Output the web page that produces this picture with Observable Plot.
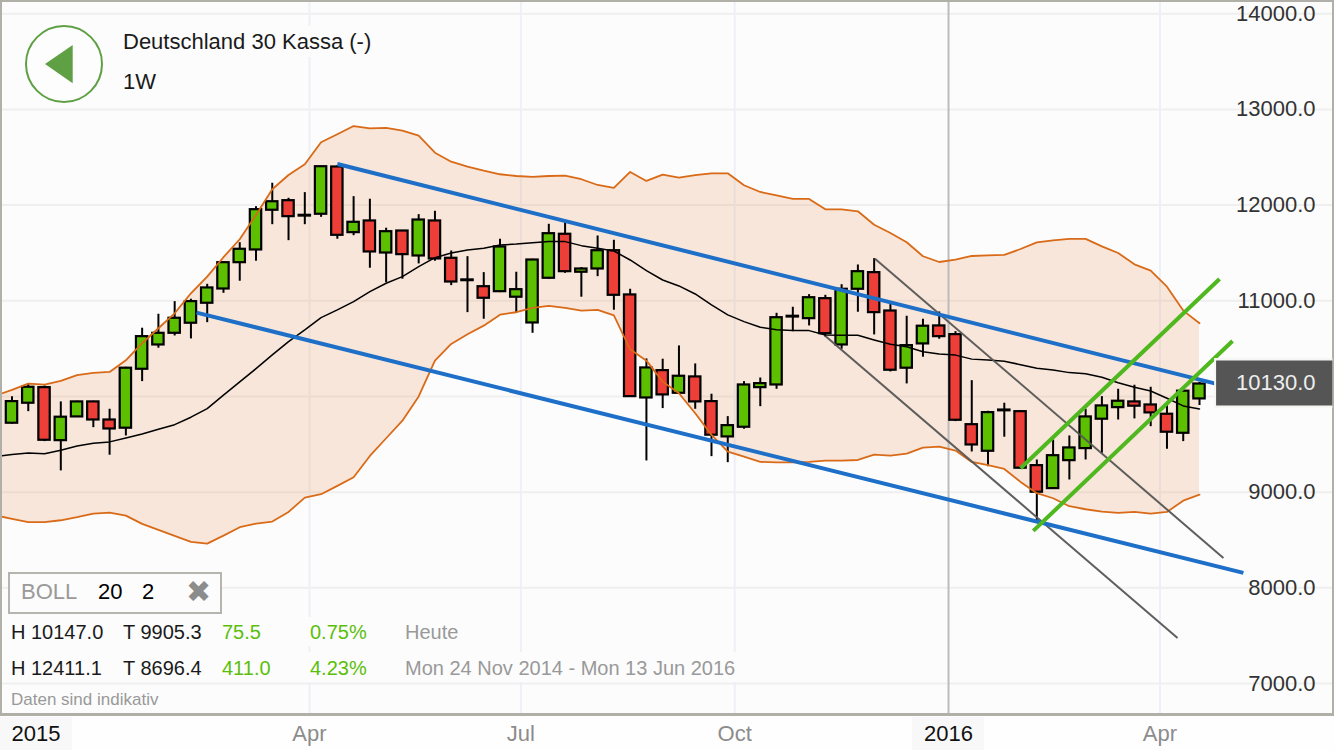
<!DOCTYPE html>
<html lang="de">
<head>
<meta charset="utf-8">
<title>Deutschland 30 Kassa</title>
<script src="https://cdn.jsdelivr.net/npm/d3@7"></script>
<script src="https://cdn.jsdelivr.net/npm/@observablehq/plot@0.6"></script>
<style>
  html, body { margin: 0; padding: 0; background: #fefefe; overflow: hidden; }
  body { width: 1334px; height: 750px; position: relative; font-family: "Liberation Sans", Arial, sans-serif; }
  #back, #front { position: absolute; left: 0; top: 0; width: 1334px; height: 750px; }
  #back { z-index: 0; } #front { z-index: 2; pointer-events: none; }
  #chart { position: absolute; left: 0; top: 0; z-index: 1; }
  #chart svg { display: block; background: transparent; }
  .frame { position: absolute; left: 0; top: 0; width: 1330px; height: 711px; background: #fcfcfc; border: 2px solid #b0b0a8; border-bottom-width: 3px; }
  .yr { position: absolute; top: 717px; height: 33px; background: #f8f8f8; }
  .t { position: absolute; white-space: nowrap; line-height: 1; }
  .row { position: absolute; left: 3px; background: #fcfcfc; }
</style>
</head>
<body>
<div id="back">
  <div class="frame"></div>
  <div class="yr" style="left:0;width:72px"></div>
  <div class="yr" style="left:912px;width:72px"></div>
</div>
<div id="chart"></div>
<div id="front">
  <svg style="position:absolute;left:0;top:0" width="130" height="130">
    <circle cx="64" cy="64" r="38" fill="#fdfdfd" stroke="#5fa045" stroke-width="2"></circle>
    <polygon points="45,64 72.7,45 72.7,83.3" fill="#5fa045"></polygon>
  </svg>
  <div class="row" style="left:118px;top:26px;width:258px;height:31px"></div>
  <div class="t" style="left:123px;top:31px;font-size:22px;color:#1a1a1a">Deutschland 30 Kassa (-)</div>
  <div class="t" style="left:123px;top:71px;font-size:22px;color:#1a1a1a">1W</div>

  <div style="position:absolute;left:8px;top:572px;width:210px;height:38px;border:2.5px solid #b5b5b0;background:#fcfcfc"></div>
  <div class="t" style="left:21px;top:581px;font-size:22px;color:#999">BOLL</div>
  <div class="t" style="left:98px;top:581px;font-size:22px;color:#000">20</div>
  <div class="t" style="left:142px;top:581px;font-size:22px;color:#000">2</div>
  <div class="t" style="left:186px;top:577px;font-size:30px;color:#8c8c8c;font-family:'DejaVu Sans'">&#10006;</div>

  <div class="row" style="top:617px;width:458px;height:29px"></div>
  <div class="row" style="top:652px;width:737px;height:30px"></div>
  <div class="t" style="left:11px;top:622px;font-size:20px;color:#1a1a1a">H 10147.0</div>
  <div class="t" style="left:123px;top:622px;font-size:20px;color:#1a1a1a">T 9905.3</div>
  <div class="t" style="left:222px;top:622px;font-size:20px;color:#5bbf0a">75.5</div>
  <div class="t" style="left:310px;top:622px;font-size:20px;color:#5bbf0a">0.75%</div>
  <div class="t" style="left:405px;top:622px;font-size:20px;color:#999">Heute</div>
  <div class="t" style="left:11px;top:658px;font-size:20px;color:#1a1a1a">H 12411.1</div>
  <div class="t" style="left:123px;top:658px;font-size:20px;color:#1a1a1a">T 8696.4</div>
  <div class="t" style="left:222px;top:658px;font-size:20px;color:#5bbf0a">411.0</div>
  <div class="t" style="left:310px;top:658px;font-size:20px;color:#5bbf0a">4.23%</div>
  <div class="t" style="left:405px;top:658px;font-size:20px;color:#999">Mon 24 Nov 2014 - Mon 13 Jun 2016</div>
  <div class="t" style="left:11px;top:691px;font-size:17px;color:#999">Daten sind indikativ</div>
</div>
<script>
const firstWeek = new Date(Date.UTC(2014, 10, 24));
const weekDate = w => new Date(firstWeek.getTime() + w * 7 * 864e5);

const opens = [9720,9929,10092,9538,9786,9943,9754,9668,10284,10538,10660,10765,10974,11123,11398,11531,11946,12046,11885,11904,12398,11712,11834,11499,11729,11468,11834,11444,11210,11147,11095,11037,10768,11235,11695,11298,11332,11523,11061,9984,10270,10033,10204,9946,9577,9678,10092,10120,10830,10813,11022,10538,11120,11294,10893,10295,10549,10737,10646,9705,9427,9850,9841,9277,9037,9329,9455,9762,9883,9943,9911,9814,9615,9974];
const closes = [9946,10096,9542,9783,9943,9754,9660,10295,10625,10660,10817,10991,11134,11398,11538,11952,12035,11879,11893,12401,11684,11820,11510,11722,11482,11844,11437,11196,11218,11026,11562,11116,11426,11701,11304,11332,11523,11057,9998,10298,10016,10211,9943,9595,9695,10120,10134,10823,10838,11032,10656,11120,11304,10876,10274,10531,10734,10625,9751,9493,9831,9858,9250,8999,9381,9462,9786,9901,9950,9898,9828,9626,10055,10130];
const highs = [9998,10131,10110,9943,9950,9950,9866,10305,10713,10859,10991,11016,11172,11409,11607,11983,12228,12071,12130,12405,12411,12088,12061,11758,11735,11900,11935,11520,11461,11294,11643,11298,11434,11799,11826,11346,11677,11632,11120,10392,10389,10528,10340,10023,9789,10155,10193,10869,10932,11064,11057,11168,11374,11440,10991,10838,10807,10883,10677,10165,9845,9929,9852,9336,9545,9587,9866,9998,10075,10117,10096,9911,10057,10147];
const lows = [9710,9841,9528,9222,9781,9674,9386,9587,10155,10504,10632,10601,10771,11078,11204,11413,11795,11628,11795,11872,11643,11680,11340,11189,11225,11385,11413,11158,10876,10807,11085,10869,10660,11225,11287,11037,11252,10901,9992,9326,9873,10026,9866,9371,9308,9657,9893,10075,10677,10737,10619,10493,10880,10643,10256,10131,10410,10598,9737,9420,9266,9574,9239,8696,9030,9127,9336,9406,9754,9765,9684,9448,9528,9905];

// Bollinger series start one week before the first candle
const bollUpper = [10009,10068,10134,10123,10162,10222,10246,10256,10378,10556,10713,10869,11078,11252,11455,11643,11897,12165,12314,12426,12656,12740,12826,12802,12806,12777,12725,12547,12453,12401,12359,12322,12304,12294,12304,12307,12270,12210,12179,12346,12252,12318,12286,12314,12332,12332,12207,12137,12102,12064,12064,11956,11956,11935,11795,11708,11611,11465,11405,11429,11468,11475,11479,11541,11611,11632,11646,11646,11569,11499,11381,11314,11147,10897,10765];
const bollMid = [9373,9392,9410,9402,9438,9483,9511,9525,9566,9608,9657,9705,9783,9873,10013,10152,10290,10434,10573,10695,10823,10904,10991,11095,11183,11252,11356,11450,11499,11531,11549,11583,11593,11607,11618,11618,11576,11549,11520,11426,11314,11217,11155,11071,10956,10852,10782,10723,10698,10688,10688,10643,10639,10639,10590,10545,10520,10468,10444,10432,10390,10381,10368,10332,10295,10277,10249,10238,10201,10144,10096,10057,9981,9901,9869];
const bollLower = [8757,8720,8686,8686,8706,8738,8775,8786,8754,8668,8605,8542,8480,8462,8545,8633,8671,8692,8793,8943,8978,9065,9156,9378,9563,9747,10000,10374,10549,10650,10740,10855,10880,10925,10946,10925,10897,10904,10848,10493,10374,10155,10033,9824,9598,9423,9371,9316,9312,9312,9316,9329,9329,9336,9392,9381,9402,9465,9475,9434,9316,9281,9242,9107,8989,8936,8853,8821,8796,8783,8793,8775,8793,8911,8974];

const blueUpper = [[20, 12429], [74.05, 10131]];
const blueLower = [[11.34, 10876], [75.7, 8156]];
const greyUpper = [[53.05, 11440], [74.47, 8312]];
const greyLower = [[50, 10632], [71.65, 7476]];
const greenUpper = [[62, 9250], [74.23, 11228]];
const greenLower = [[62.78, 8595], [75.03, 10580]];

const priceTicks = [7000, 8000, 9000, 10000, 11000, 12000, 13000, 14000];
// The 10000.0 label sits behind the current-price box in the original and is not shown.
const priceLabels = [7000, 8000, 9000, 11000, 12000, 13000, 14000];
const quarterTicks = [new Date(Date.UTC(2015,3,1)), new Date(Date.UTC(2015,6,1)), new Date(Date.UTC(2015,9,1)), new Date(Date.UTC(2016,3,1))];
const quarterLabels = ["Apr", "Jul", "Oct", "Apr"];
const yearTick = new Date(Date.UTC(2016,0,1));
const yearLabel = "2016";
const stickyYearWeek = 1.47;
const stickyYearLabel = "2015";
const lastPrice = 10130;
const priceBoxWeeks = [74.05, 81.2];

const candles = opens.map((o, i) => ({date: weekDate(i), open: o, close: closes[i], high: highs[i], low: lows[i]}));
const bands = bollUpper.map((u, i) => ({date: weekDate(i - 1), upper: u, mid: bollMid[i], lower: bollLower[i]}));
const seg = pts => pts.map(([w, p]) => ({date: weekDate(w), price: p}));
const halfBody = 2.45 * 864e5;
const candleColor = d => Math.abs(d.close - d.open) < 10 ? "#000" : d.close > d.open ? "#5cc000" : "#ee3e38";
const trend = (pts, stroke, strokeWidth, opacity = 1) =>
  Plot.line(seg(pts), {x: "date", y: "price", stroke, strokeWidth, strokeOpacity: opacity, curve: "linear", strokeLinecap: "butt"});

const chart = Plot.plot({
  width: 1334, height: 750,
  marginLeft: 2, marginRight: 2, marginTop: 2, marginBottom: 37,
  style: {background: "transparent", fontFamily: "'Liberation Sans', Arial, sans-serif"},
  x: {type: "utc", domain: [weekDate(0), weekDate(73)], range: [11.5, 1199]},
  y: {domain: [7000, 14000], range: [683, 13.2]},
  color: {type: "identity"},
  marks: [
    Plot.ruleY(priceTicks, {stroke: "#efefef", strokeWidth: 2}),
    Plot.ruleX(quarterTicks, {stroke: "#eef0f8", strokeWidth: 2}),
    Plot.areaY(bands, {x: "date", y1: "lower", y2: "upper", fill: "#e07a30", fillOpacity: 0.17, clip: true}),
    Plot.ruleX([yearTick], {stroke: "#bcbcbc", strokeWidth: 2}),

    Plot.ruleX(candles, {x: "date", y1: "low", y2: "high", stroke: "#000", strokeWidth: 2}),
    Plot.rect(candles, {
      x1: d => new Date(d.date.getTime() - halfBody), x2: d => new Date(d.date.getTime() + halfBody),
      y1: "open", y2: "close", fill: candleColor, stroke: "#000", strokeWidth: 2.2
    }),

    Plot.line(bands, {x: "date", y: "upper", stroke: "#d96a17", strokeWidth: 1.8, clip: true}),
    Plot.line(bands, {x: "date", y: "lower", stroke: "#d96a17", strokeWidth: 1.8, clip: true}),
    Plot.line(bands, {x: "date", y: "mid", stroke: "#000", strokeWidth: 1.5, clip: true}),

    trend(greyUpper, "#555", 2, 0.95),
    trend(greyLower, "#555", 2, 0.95),
    trend(blueUpper, "#1e6fc8", 4),
    trend(blueLower, "#1e6fc8", 4),
    trend(greenUpper, "#4fb81e", 4),
    trend(greenLower, "#4fb81e", 4),

    Plot.ruleY([lastPrice], {x1: () => weekDate(priceBoxWeeks[0] - 0.12), x2: () => weekDate(priceBoxWeeks[1]), dy: -1, stroke: "#f6f6f4", strokeWidth: 50}),
    Plot.ruleY([lastPrice], {x1: () => weekDate(priceBoxWeeks[0]), x2: () => weekDate(priceBoxWeeks[1]), dy: -1, stroke: "#555", strokeWidth: 45}),
    Plot.text([lastPrice], {y: d => d, frameAnchor: "right", dx: -17, dy: -1, textAnchor: "end", text: d => d.toFixed(1), fill: "#eee", fontSize: 22}),

    Plot.axisY(priceLabels, {anchor: "right", label: null, tickSize: 0, tickPadding: 0, dx: -17, textAnchor: "end", tickFormat: d => d.toFixed(1), fontSize: 22, fill: "#333"}),
    Plot.axisX(quarterTicks, {anchor: "bottom", label: null, tickSize: 0, tickPadding: 12, tickFormat: (d, i) => quarterLabels[i], fontSize: 22, fill: "#8c8c8c"}),
    Plot.axisX([yearTick], {anchor: "bottom", label: null, tickSize: 0, tickPadding: 12, tickFormat: () => yearLabel, fontSize: 22, fill: "#111"}),
    Plot.axisX([weekDate(stickyYearWeek)], {anchor: "bottom", label: null, tickSize: 0, tickPadding: 12, tickFormat: () => stickyYearLabel, fontSize: 22, fill: "#111"})
  ]
});
document.getElementById("chart").append(chart);
</script>
</body>
</html>
